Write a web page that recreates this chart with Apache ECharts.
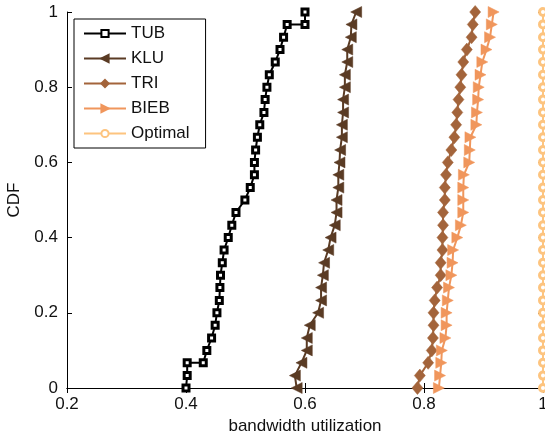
<!DOCTYPE html>
<html>
<head>
<meta charset="utf-8">
<script src="https://cdn.jsdelivr.net/npm/echarts@6/dist/echarts.min.js"></script>
<style>
  html, body { margin: 0; padding: 0; background: #fff; }
  #chart { width: 545px; height: 435px; }
</style>
</head>
<body>
<div id="chart"></div>
<script>
// CDF levels shared by most curves
const cdfY = [0, 0.033, 0.067, 0.1, 0.133, 0.167, 0.2, 0.233, 0.267, 0.3, 0.333, 0.367, 0.4, 0.433, 0.467,
  0.5, 0.533, 0.567, 0.6, 0.633, 0.667, 0.7, 0.733, 0.767, 0.8, 0.833, 0.867, 0.9, 0.933, 0.967, 1];

// TUB has a couple of flat steps, so it keeps its own y list
const tubX = [0.400, 0.402, 0.402, 0.429, 0.435, 0.443, 0.449, 0.452, 0.456, 0.457, 0.458, 0.461, 0.464, 0.471,
  0.477, 0.484, 0.499, 0.508, 0.515, 0.515, 0.517, 0.520, 0.524, 0.531, 0.533, 0.536, 0.540, 0.550, 0.558,
  0.564, 0.570, 0.600, 0.600];
const tubY = [0, 0.033, 0.067, 0.067, 0.1, 0.133, 0.167, 0.2, 0.233, 0.267, 0.3, 0.333, 0.367, 0.4, 0.433,
  0.467, 0.5, 0.533, 0.567, 0.6, 0.633, 0.667, 0.7, 0.733, 0.767, 0.8, 0.833, 0.867, 0.9, 0.933, 0.967,
  0.967, 1];

const kluX = [0.586, 0.583, 0.594, 0.603, 0.603, 0.608, 0.622, 0.627, 0.627, 0.630, 0.632, 0.639, 0.643, 0.650,
  0.653, 0.653, 0.656, 0.656, 0.658, 0.659, 0.662, 0.662, 0.664, 0.664, 0.667, 0.667, 0.671, 0.671, 0.677,
  0.678, 0.686];
const triX = [0.789, 0.793, 0.807, 0.813, 0.815, 0.816, 0.816, 0.818, 0.822, 0.828, 0.828, 0.831, 0.831, 0.832,
  0.832, 0.835, 0.835, 0.837, 0.840, 0.846, 0.851, 0.854, 0.856, 0.858, 0.861, 0.863, 0.866, 0.872, 0.880,
  0.882, 0.886];
const biebX = [0.825, 0.827, 0.829, 0.830, 0.836, 0.838, 0.838, 0.840, 0.842, 0.846, 0.848, 0.849, 0.856, 0.862,
  0.866, 0.866, 0.866, 0.867, 0.876, 0.877, 0.878, 0.888, 0.889, 0.891, 0.892, 0.895, 0.898, 0.905, 0.911,
  0.914, 0.917];
const optX = [1, 1, 1, 1, 1, 1, 1, 1, 1, 1, 1, 1, 1, 1, 1, 1, 1, 1, 1, 1, 1, 1, 1, 1, 1, 1, 1, 1, 1, 1, 1];

const names = ["TUB", "KLU", "TRI", "BIEB", "Optimal"];
const colors = ["#000000", "#5a3b24", "#a3643b", "#f0965c", "#fdc47f"];

const leftTri = "path://M10,0 L0,5 L10,10 Z";
const rightTri = "path://M0,0 L10,5 L0,10 Z";

function pairs(xs, ys) {
  return xs.map((x, i) => [x, ys[i]]);
}

const fontFam = "'Liberation Sans', Arial, sans-serif";
const tickFmt = v => String(+v.toFixed(1));

const chart = echarts.init(document.getElementById("chart"));

function mkSeries(i, data, symbol, size, filled) {
  return {
    name: names[i],
    type: "line",
    data: data,
    symbol: symbol,
    symbolSize: size,
    symbolKeepAspect: true,
    showAllSymbol: true,
    xAxisIndex: 0,
    yAxisIndex: 0,
    lineStyle: { color: colors[i], width: 2 },
    itemStyle: filled
      ? { color: colors[i], borderColor: colors[i], borderWidth: 0.5 }
      : { color: "#ffffff", borderColor: colors[i], borderWidth: 3 },
    emphasis: { disabled: true },
  };
}

const option = {
  animation: false,
  backgroundColor: "#ffffff",
  textStyle: { fontFamily: fontFam },
  grid: { left: 67, right: 2, top: 12, bottom: 47, outerBoundsMode: "none", containLabel: false },
  legend: {
    orient: "vertical",
    left: 74,
    top: 19,
    padding: [6, 16, 6, 9],
    itemWidth: 42,
    itemHeight: 9,
    itemGap: 8,
    borderColor: "#000",
    borderWidth: 1,
    backgroundColor: "#fff",
    textStyle: { fontSize: 17, color: "#111", fontFamily: fontFam, lineHeight: 17 },
    data: names,
  },
  xAxis: [
    {
      type: "value",
      min: 0.2,
      max: 1,
      interval: 0.2,
      name: "bandwidth utilization",
      nameLocation: "middle",
      nameGap: 26,
      nameTextStyle: { fontSize: 17, color: "#111", fontFamily: fontFam },
      axisLine: { lineStyle: { color: "#000", width: 1 } },
      axisTick: { inside: true, length: 5, lineStyle: { color: "#000" } },
      axisLabel: { fontSize: 17, color: "#111", margin: 8, formatter: tickFmt },
      splitLine: { show: false },
    },
    {
      type: "value",
      position: "top",
      min: 0.2,
      max: 1,
      interval: 0.2,
      axisLine: { show: true, lineStyle: { color: "#000", width: 1 } },
      axisTick: { inside: true, length: 5, lineStyle: { color: "#000" } },
      axisLabel: { show: false },
      splitLine: { show: false },
    },
  ],
  yAxis: [
    {
      type: "value",
      min: 0,
      max: 1,
      interval: 0.2,
      name: "CDF",
      nameLocation: "middle",
      nameGap: 44,
      nameTextStyle: { fontSize: 17, color: "#111", fontFamily: fontFam },
      axisLine: { show: true, lineStyle: { color: "#000", width: 1 } },
      axisTick: { show: true, inside: true, length: 5, lineStyle: { color: "#000" } },
      axisLabel: { fontSize: 17, color: "#111", margin: 9, formatter: tickFmt },
      splitLine: { show: false },
    },
    {
      type: "value",
      position: "right",
      min: 0,
      max: 1,
      interval: 0.2,
      axisLine: { show: true, lineStyle: { color: "#000", width: 1 } },
      axisTick: { show: true, inside: true, length: 5, lineStyle: { color: "#000" } },
      axisLabel: { show: false },
      splitLine: { show: false },
    },
  ],
  series: [
    mkSeries(0, pairs(tubX, tubY), "rect", 6, false),
    mkSeries(1, pairs(kluX, cdfY), leftTri, [11, 11], true),
    mkSeries(2, pairs(triX, cdfY), "diamond", [11, 13], true),
    mkSeries(3, pairs(biebX, cdfY), rightTri, [11, 11], true),
    mkSeries(4, pairs(optX, cdfY), "circle", 7, false),
  ],
};

chart.setOption(option);
</script>
</body>
</html>
